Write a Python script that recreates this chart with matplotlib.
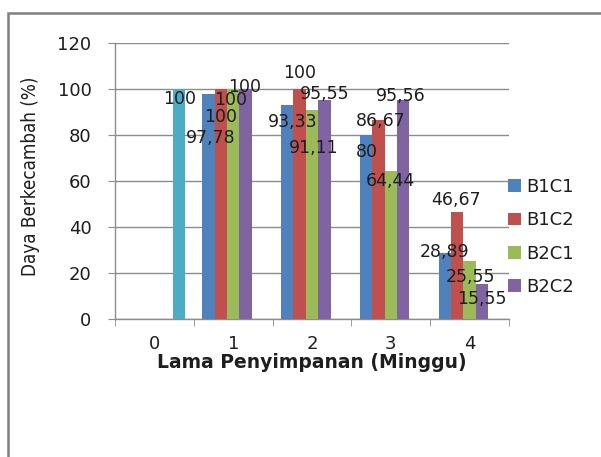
import matplotlib
matplotlib.use("Agg")
import matplotlib.pyplot as plt
from matplotlib.patches import Rectangle
import numpy as np

# --- Data ---
weeks = ["0", "1", "2", "3", "4"]
series_names = ["B1C1", "B1C2", "B2C1", "B2C2"]
b1c1 = [None, 97.78, 93.33, 80, 28.89]
b1c2 = [None, 100, 100, 86.67, 46.67]
b2c1 = [None, 100, 91.11, 64.44, 25.55]
b2c2 = [None, 100, 95.55, 95.56, 15.55]
control = [100, None, None, None, None]

# --- Style ---
colors = ["#4F81BD", "#C0504D", "#9BBB59", "#8064A2", "#4BACC6"]
grid_col = "#8C8C8C"
text_col = "#1E1E1E"
# label offsets (pixels, y up) relative to each bar top, as placed in the original
label_offsets = [
    [None, (2, -44), (5, -17), (1, -17), (0, 1)],
    [None, (0, -28), (0, 16), (2, -1), (-1, 12)],
    [None, (-3, -11), (2, -38), (0, -10), (1, -16)],
    [None, (-1, 2), (0, 6), (-2, 4), (0, -15)],
    [(0, -10), None, None, None, None],
]

def fmt(v):
    if float(v).is_integer():
        return str(int(v))
    return f"{v:.2f}".replace(".", ",")

fig = plt.figure(figsize=(6.01, 4.57), dpi=100)
ax = fig.add_axes([115 / 601, 1 - 319.3 / 457, 394 / 601, 276 / 457])

all_series = [b1c1, b1c2, b2c1, b2c2, control]
w = 0.157
x = np.arange(len(weeks))
handles = []
for j, vals in enumerate(all_series):
    xs = [x[i] + (j - 2) * w for i, v in enumerate(vals) if v is not None]
    ys = [v for v in vals if v is not None]
    bars = ax.bar(xs, ys, width=w, color=colors[j], zorder=3, linewidth=0)
    if j < 4:
        handles.append(bars)
    for i, v in enumerate(vals):
        if v is None:
            continue
        dx, dy = label_offsets[j][i]
        ax.annotate(fmt(v), xy=(x[i] + (j - 2) * w, v), xytext=(dx, dy),
                    textcoords="offset pixels", ha="center", va="center",
                    fontsize=12.5, color=text_col, zorder=5)

ax.set_xlim(-0.5, 4.5)
ax.set_ylim(0, 120)
ax.set_yticks(range(0, 121, 20))
ax.yaxis.grid(True, color=grid_col, linewidth=1, zorder=0)
ax.set_axisbelow(True)
for s in ["top", "right"]:
    ax.spines[s].set_visible(False)
for s in ["left", "bottom"]:
    ax.spines[s].set_color(grid_col)
    ax.spines[s].set_linewidth(1)

ax.set_xticks(x)
ax.set_xticklabels(weeks)
ax.set_xticks(np.arange(-0.5, 5, 1), minor=True)
ax.tick_params(axis="x", which="major", length=0, pad=11, labelsize=13, labelcolor=text_col)
ax.tick_params(axis="x", which="minor", length=5, color=grid_col, direction="out")
ax.tick_params(axis="y", length=5, color=grid_col, pad=12, labelsize=13, labelcolor=text_col)

fig.text(31 / 601, 1 - 176 / 457, "Daya Berkecambah (%)", rotation=90,
         ha="center", va="center", fontsize=13.5, color=text_col,
         family="DejaVu Sans", fontstretch="condensed")
fig.text(312 / 601, 1 - 363 / 457, "Lama Penyimpanan (Minggu)", ha="center",
         va="center", fontsize=13.5, fontweight="bold", color=text_col)

leg = fig.legend(handles, series_names, loc="center left",
                 bbox_to_anchor=(508 / 601, 1 - 237 / 457), frameon=False,
                 fontsize=13, handlelength=0.72, handleheight=0.72,
                 handletextpad=0.3, labelspacing=0.85, borderpad=0,
                 borderaxespad=0)
for t in leg.get_texts():
    t.set_color(text_col)

# outer chart border (cut off at the right and bottom)
fig.patches.append(Rectangle((8 / 601, -0.1), 1.2, 1 - 13 / 457 + 0.1,
                             transform=fig.transFigure, fill=False,
                             edgecolor="#808080", linewidth=1.8))

fig.savefig("out.png", dpi=100)
